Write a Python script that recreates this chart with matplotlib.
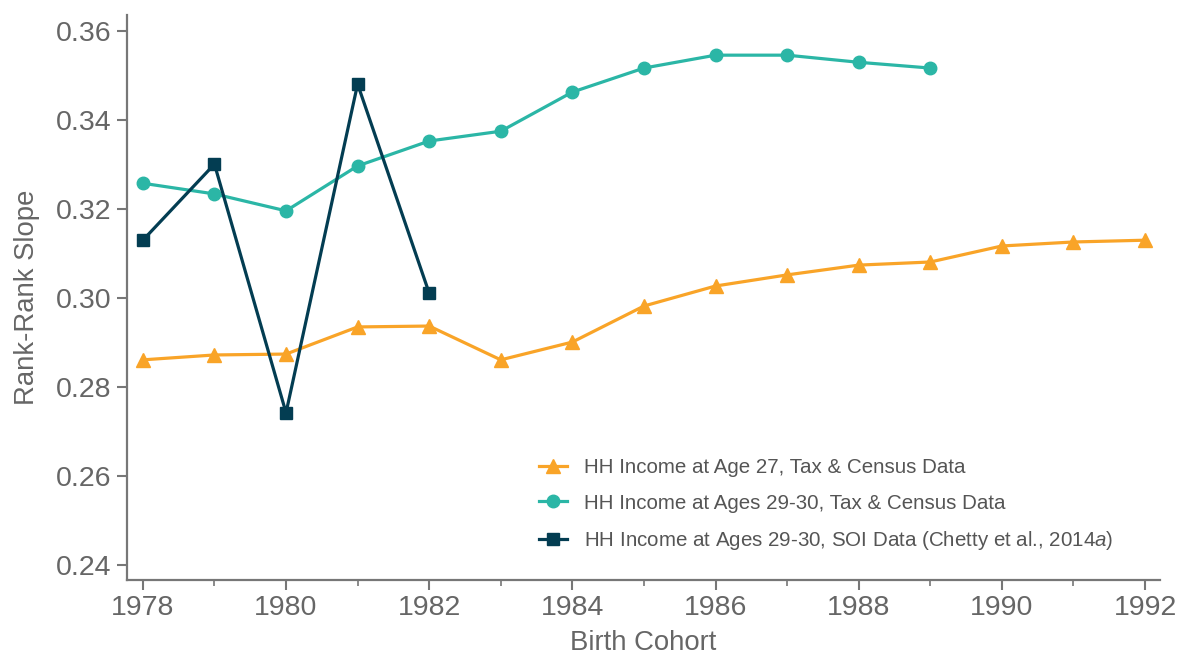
import matplotlib
matplotlib.use("Agg")
import matplotlib.pyplot as plt
from matplotlib.ticker import MultipleLocator

plt.rcParams['font.family'] = ['Liberation Sans', 'DejaVu Sans']
plt.rcParams['mathtext.fontset'] = 'custom'
plt.rcParams['mathtext.it'] = 'Liberation Sans:italic'
plt.rcParams['mathtext.rm'] = 'Liberation Sans'

# data
years_27 = list(range(1978, 1993))
slope_27 = [0.2861, 0.2872, 0.2874, 0.2935, 0.2937, 0.2861, 0.2901, 0.2982,
            0.3027, 0.3052, 0.3074, 0.3081, 0.3117, 0.3126, 0.3130]

years_2930 = list(range(1978, 1990))
slope_2930 = [0.3258, 0.3234, 0.3196, 0.3297, 0.3353, 0.3375, 0.3463, 0.3517,
              0.3546, 0.3546, 0.3530, 0.3517]

years_soi = list(range(1978, 1983))
slope_soi = [0.3130, 0.3301, 0.2742, 0.3481, 0.3011]

labels = ["HH Income at Age 27, Tax & Census Data",
          "HH Income at Ages 29-30, Tax & Census Data",
          r"HH Income at Ages 29-30, SOI Data (Chetty et al., 2014$\mathit{a}$)"]

orange = '#F9A428'
teal = '#2BB6A6'
navy = '#033D52'
grey = '#777777'
text_grey = '#666666'

fig = plt.figure(figsize=(11.77, 6.58), dpi=100)
ax = fig.add_axes([0.108, 0.1185, 0.8776, 0.8585])

ax.plot(years_27, slope_27, color=orange, marker='^', markersize=10, lw=2.3, label=labels[0])
ax.plot(years_2930, slope_2930, color=teal, marker='o', markersize=9, lw=2.3, label=labels[1])
ax.plot(years_soi, slope_soi, color=navy, marker='s', markersize=9, lw=2.3, label=labels[2])

ax.set_xlim(1977.78, 1992.21)
ax.set_ylim(0.2366, 0.3636)
ax.xaxis.set_major_locator(MultipleLocator(2))
ax.xaxis.set_minor_locator(MultipleLocator(1))
ax.yaxis.set_major_locator(MultipleLocator(0.02))
ax.yaxis.set_major_formatter(matplotlib.ticker.FormatStrFormatter('%.2f'))

for s in ['top', 'right']:
    ax.spines[s].set_visible(False)
for s in ['left', 'bottom']:
    ax.spines[s].set_color(grey)
    ax.spines[s].set_linewidth(1.6)

ax.tick_params(which='major', length=7, width=1.5, color=grey, labelcolor=text_grey,
               labelsize=20.5, pad=4)
ax.tick_params(which='minor', length=4, width=1.2, color=grey)

ax.set_xlabel('Birth Cohort', fontsize=19.8, color=text_grey, labelpad=6)
ax.set_ylabel('Rank-Rank Slope', fontsize=19.8, color=text_grey, labelpad=12)

leg = ax.legend(loc='center left', bbox_to_anchor=(0.381, 0.1327), frameon=False,
                fontsize=14.8, handlelength=1.37, labelspacing=0.81, handletextpad=0.83)
for t in leg.get_texts():
    t.set_color('#555555')

fig.savefig('out.png', dpi=100)
